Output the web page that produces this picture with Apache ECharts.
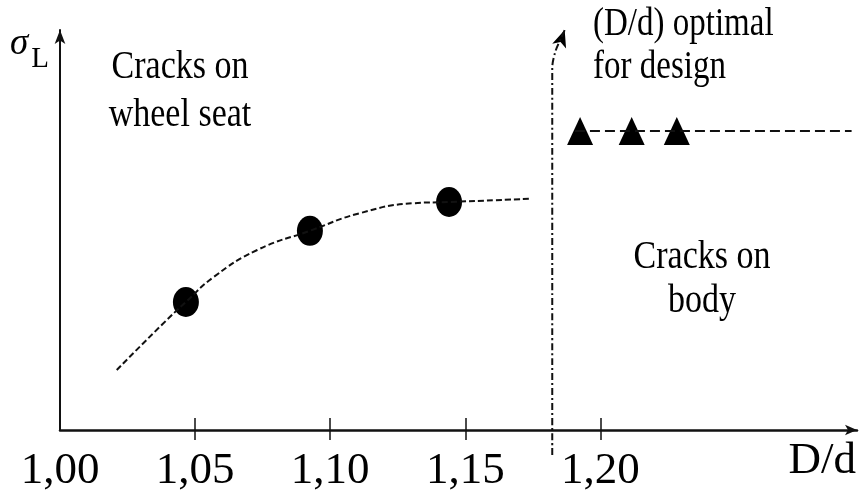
<!DOCTYPE html>
<html>
<head>
<meta charset="utf-8">
<title>σL vs D/d</title>
<script src="https://cdn.jsdelivr.net/npm/echarts@6/dist/echarts.min.js"></script>
<style>
  html, body { margin: 0; padding: 0; background: #fff; }
  #chart { width: 868px; height: 500px; }
</style>
</head>
<body>
<div id="chart"></div>
<script>
// data (y is in arbitrary units, 0..100)
const xTicks = [1.05, 1.10, 1.15, 1.20]
const xLabels = [1.00, 1.05, 1.10, 1.15, 1.20]

// wheel seat: dashed trend curve + measured points
const curveX = [1.021, 1.038, 1.0466, 1.057, 1.073, 1.0925, 1.111, 1.131, 1.144, 1.174]
const curveY = [15, 26.5, 32, 38.3, 45, 49.8, 54.2, 56.7, 57, 57.8]
const seatX = [1.0466, 1.0925, 1.144]
const seatY = [32, 49.8, 57]

// body: triangles on a flat dashed level
const bodyX = [1.1925, 1.2116, 1.2283]
const bodyY = [74.75, 74.75, 74.75]
const levelX = [1.1906, 1.293]
const levelY = [74.75, 74.75]

// optimal D/d marker (dash-dot with arrow)
const optX = [1.1822, 1.1822, 1.1833, 1.1856, 1.1868]
const optY = [-6.25, 90.5, 94.5, 98.2, 100]

const serif = '"Liberation Serif", "Times New Roman", serif'
const zip = (xs, ys) => xs.map((x, i) => [x, ys[i]])

const chart = echarts.init(document.getElementById('chart'))

const option = {
  backgroundColor: '#fff',
  animation: false,
  grid: { left: 60, right: 11, top: 30, bottom: 70, outerBoundsMode: 'none' },
  xAxis: [
    {
      type: 'value',
      min: 1.0,
      max: 1.295,
      position: 'bottom',
      splitLine: { show: false },
      axisLine: {
        lineStyle: { color: '#111', width: 2.5 },
        symbol: ['none', 'arrow'],
        symbolSize: [8, 12]
      },
      axisTick: {
        customValues: xTicks,
        length: 10,
        lineStyle: { color: '#111', width: 1.5 }
      },
      axisLabel: {
        customValues: xLabels,
        formatter: v => v.toFixed(2).replace('.', ','),
        color: '#000',
        fontFamily: serif,
        fontSize: 45,
        margin: 19
      },
      name: 'D/d',
      nameLocation: 'end',
      nameGap: -1,
      nameTextStyle: {
        color: '#000',
        fontFamily: serif,
        fontSize: 45,
        align: 'right',
        verticalAlign: 'top',
        padding: [9, 0, 0, 0]
      }
    },
    {
      // second axis only to draw the inner half of the crossing ticks
      type: 'value',
      min: 1.0,
      max: 1.295,
      position: 'bottom',
      splitLine: { show: false },
      axisLine: { show: false },
      axisTick: {
        inside: true,
        customValues: xTicks,
        length: 12,
        lineStyle: { color: '#111', width: 1.5 }
      },
      axisLabel: { show: false }
    }
  ],
  yAxis: {
    type: 'value',
    min: 0,
    max: 100,
    splitLine: { show: false },
    axisTick: { show: false },
    axisLabel: { show: false },
    axisLine: {
      lineStyle: { color: '#111', width: 2 },
      symbol: ['none', 'arrow'],
      symbolSize: [8, 14]
    },
    name: '{s|σ}{l|L}',
    nameLocation: 'end',
    nameGap: 4,
    nameTextStyle: {
      align: 'right',
      verticalAlign: 'top',
      padding: [0, 11, 0, 0],
      rich: {
        s: { fontFamily: serif, fontStyle: 'italic', fontSize: 37, color: '#000', verticalAlign: 'top', lineHeight: 48 },
        l: { fontFamily: serif, fontSize: 29, color: '#000', verticalAlign: 'bottom', lineHeight: 48, padding: [0, 0, 0, 3] }
      }
    }
  },
  series: [
    {
      name: 'trend',
      type: 'line',
      data: zip(curveX, curveY),
      smooth: true,
      showSymbol: false,
      lineStyle: { color: '#111', width: 2, type: [6, 3] }
    },
    {
      name: 'wheel seat',
      type: 'scatter',
      data: zip(seatX, seatY),
      symbol: 'path://M0,-1A1,1,0,1,1,0,1A1,1,0,1,1,0,-1Z',
      symbolSize: [26, 30],
      itemStyle: { color: '#000', opacity: 1 }
    },
    {
      name: 'level',
      type: 'line',
      data: zip(levelX, levelY),
      showSymbol: false,
      lineStyle: { color: '#111', width: 2, type: [10, 5] }
    },
    {
      name: 'body',
      type: 'scatter',
      data: zip(bodyX, bodyY),
      symbol: 'triangle',
      symbolSize: [26, 28],
      itemStyle: { color: '#000', opacity: 1 }
    },
    {
      name: 'optimal',
      type: 'line',
      data: zip(optX, optY),
      smooth: 0.3,
      showSymbol: false,
      clip: false,
      lineStyle: { color: '#111', width: 2, type: [7, 3, 2, 3] }
    },
    {
      name: 'optimal arrow',
      type: 'scatter',
      data: [[optX[optX.length - 1], optY[optY.length - 1]]],
      symbol: 'arrow',
      symbolSize: [11, 17],
      symbolRotate: -19,
      clip: false,
      itemStyle: { color: '#000', opacity: 1 }
    }
  ],
  graphic: [
    {
      type: 'text',
      x: 180,
      y: 43,
      scaleY: 1.2,
      style: {
        text: 'Cracks on\nwheel seat',
        font: '34px ' + serif,
        fill: '#000',
        align: 'center',
        verticalAlign: 'top',
        lineHeight: 40
      }
    },
    {
      type: 'text',
      x: 593,
      y: 3,
      scaleY: 1.2,
      style: {
        text: '(D/d) optimal\nfor design',
        font: '33px ' + serif,
        fill: '#000',
        align: 'left',
        verticalAlign: 'top',
        lineHeight: 36
      }
    },
    {
      type: 'text',
      x: 702,
      y: 236,
      scaleY: 1.2,
      style: {
        text: 'Cracks on\nbody',
        font: '34px ' + serif,
        fill: '#000',
        align: 'center',
        verticalAlign: 'top',
        lineHeight: 36
      }
    }
  ]
}

chart.setOption(option)
window.addEventListener('resize', () => chart.resize())
</script>
</body>
</html>
